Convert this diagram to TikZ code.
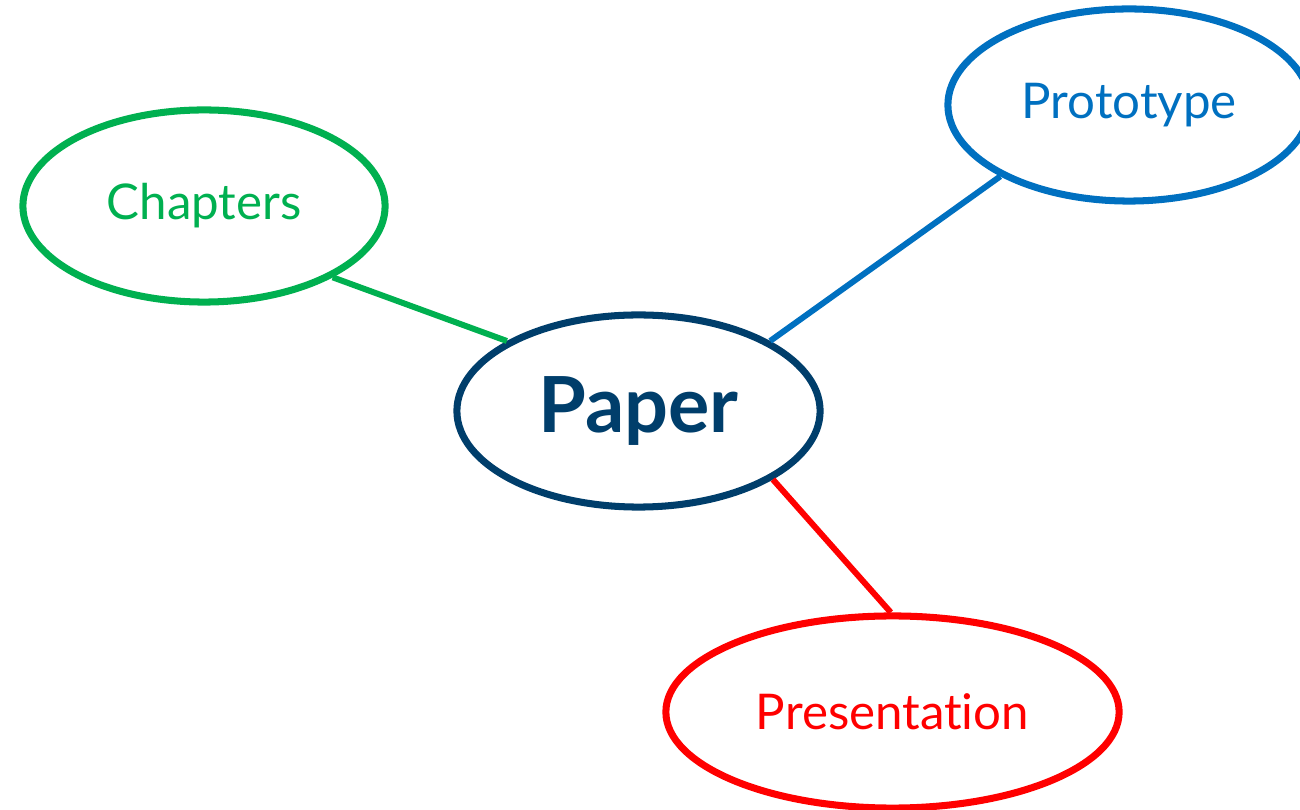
\documentclass[tikz,border=0pt]{standalone}
\usepackage{fontspec}
\setmainfont[Ligatures=NoCommon]{Lato}
\usetikzlibrary{shapes.geometric}
\definecolor{cgreen}{HTML}{00B050}
\definecolor{cblue}{HTML}{0070C0}
\definecolor{cnavy}{HTML}{003E6B}
\definecolor{cred}{HTML}{FF0000}
\tikzset{
  topic/.style={ellipse, draw, line width=2pt, inner sep=0pt,
    minimum width=3.62cm, minimum height=1.92cm, font=\fontsize{14}{16}\selectfont},
  link/.style={line width=1.7pt},
}
\begin{document}
\begin{tikzpicture}[x=0.01cm,y=-0.01cm]
\useasboundingbox (0,0) rectangle (1300,810);
\clip (0,0) rectangle (1300,810);
\node[topic, draw=cnavy, text=cnavy, minimum width=3.63cm, font=\fontsize{22}{24}\bfseries\selectfont] (paper) at (638.5,411) {Paper};
\node[topic, draw=cgreen, text=cgreen] (chap) at (204,206) {Chapters};
\node[topic, draw=cblue, text=cblue] (proto) at (1129,105) {Prototype};
\node[topic, draw=cred, text=cred, minimum width=4.53cm] (pres) at (892.5,712) {Presentation};
\draw[link, cgreen] (chap.-29.2) -- (paper.152.1);
\draw[link, cblue] (paper.28) -- (proto.209.2);
\draw[link, cred] (paper.-27.7) -- (pres.91);
\end{tikzpicture}
\end{document}
